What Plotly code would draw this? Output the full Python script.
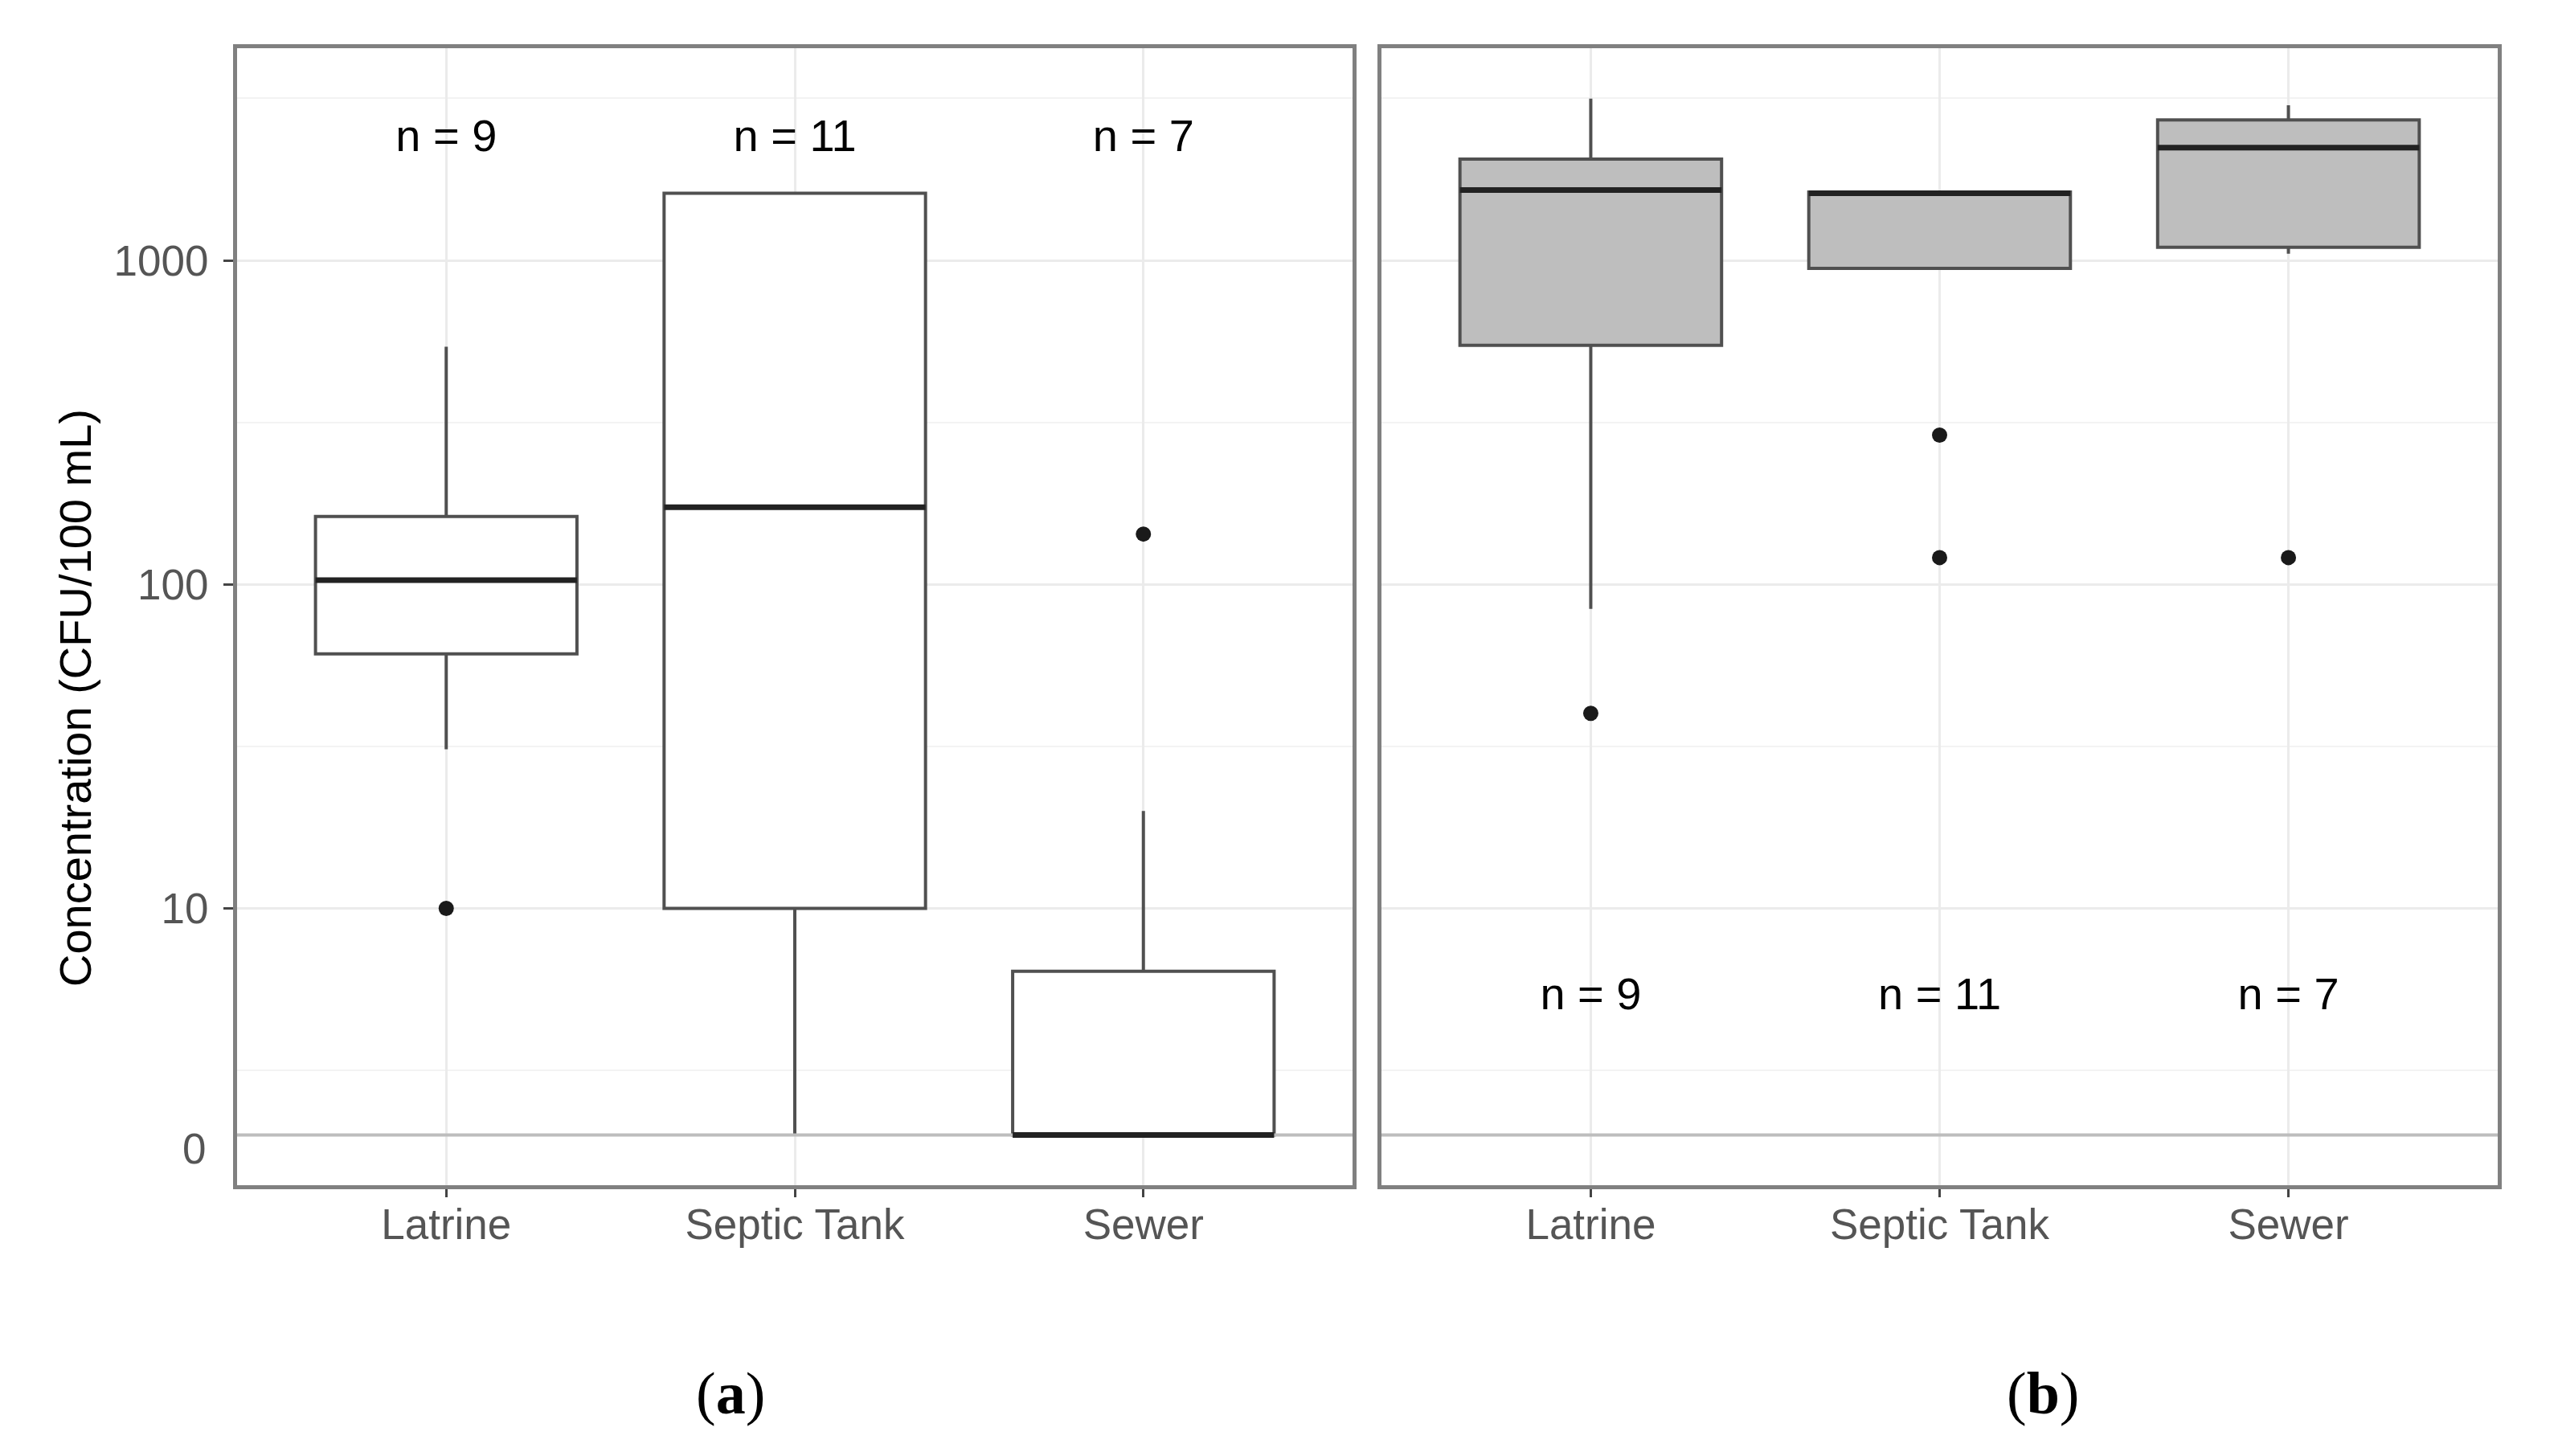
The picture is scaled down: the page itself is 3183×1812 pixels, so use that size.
import math
import plotly.graph_objects as go

# categories and box statistics (CFU/100 mL); 0 = below detection
categories = ["Latrine", "Septic Tank", "Sewer"]
n_counts = [9, 11, 7]

a_lower = [31, 0, 0]
a_q1 = [61, 10, 0]
a_median = [103, 173, 0]
a_q3 = [162, 1610, 6.4]
a_upper = [541, 1610, 20]
a_outlier_cat = [0, 2]
a_outlier_val = [10, 143]

b_lower = [84, 944, 1048]
b_q1 = [547, 944, 1097]
b_median = [1648, 1610, 2228]
b_q3 = [2052, 1625, 2713]
b_upper = [3155, 1625, 3010]
b_outlier_cat = [0, 1, 1, 2]
b_outlier_val = [40, 289, 121, 121]

ZERO_PLOT = 2.0        # where zero values sit on the log axis
ZERO_LABEL = 1.82      # where the "0" label is written
N_LABEL_Y = {"a": 2350, "b": 5.3}

W, H = 3183, 1812
OFF = 6                # page body margin
FONT = "Liberation Sans, Arial, sans-serif"
BOX_W = 0.75
X_RANGE = [-0.6, 2.6]


def z(vals):
    return [v if v > 0 else ZERO_PLOT for v in vals]


def px(x):
    return (x - OFF) / W


def py(y):
    return 1 - (y - OFF) / H


panels = [
    dict(key="a", xa="x", ya="y", fill="white", lower=a_lower, q1=a_q1, med=a_median, q3=a_q3,
         upper=a_upper, oc=a_outlier_cat, ov=a_outlier_val),
    dict(key="b", xa="x2", ya="y2", fill="#bebebe", lower=b_lower, q1=b_q1, med=b_median, q3=b_q3,
         upper=b_upper, oc=b_outlier_cat, ov=b_outlier_val),
]

fig = go.Figure()
xs = list(range(len(categories)))

for p in panels:
    # zero line, drawn first so it stays under the boxes
    fig.add_trace(go.Scatter(x=X_RANGE, y=[ZERO_PLOT, ZERO_PLOT], mode="lines",
                             line=dict(color="#bdbdbd", width=4),
                             showlegend=False, hoverinfo="skip", xaxis=p["xa"], yaxis=p["ya"]))
    fig.add_trace(go.Box(
        x=xs, q1=z(p["q1"]), median=z(p["med"]), q3=z(p["q3"]),
        lowerfence=z(p["lower"]), upperfence=z(p["upper"]),
        width=BOX_W, fillcolor=p["fill"], line=dict(color="#505050", width=4),
        boxpoints=False, whiskerwidth=0, showlegend=False, hoverinfo="skip",
        xaxis=p["xa"], yaxis=p["ya"]))
    # thicker median line, as ggplot draws it
    mx, my = [], []
    for i, m in zip(xs, z(p["med"])):
        mx += [i - BOX_W / 2, i + BOX_W / 2, None]
        my += [m, m, None]
    fig.add_trace(go.Scatter(x=mx, y=my, mode="lines", line=dict(color="#222222", width=7),
                             showlegend=False, hoverinfo="skip", xaxis=p["xa"], yaxis=p["ya"]))
    # outliers
    fig.add_trace(go.Scatter(x=p["oc"], y=p["ov"], mode="markers",
                             marker=dict(color="#1a1a1a", size=19),
                             showlegend=False, hoverinfo="skip", xaxis=p["xa"], yaxis=p["ya"]))
    # sample sizes
    fig.add_trace(go.Scatter(x=xs, y=[N_LABEL_Y[p["key"]]] * len(xs), mode="text",
                             text=["n = %d" % n for n in n_counts],
                             textfont=dict(family=FONT, size=56, color="black"),
                             showlegend=False, hoverinfo="skip", xaxis=p["xa"], yaxis=p["ya"]))

y_dom = [py(1473), py(58)]
y_range = [0.146, 3.6546]

xcommon = dict(range=X_RANGE, tickvals=xs, ticktext=categories, showgrid=True,
               gridcolor="#ebebeb", gridwidth=3, zeroline=False, showline=True, mirror=True,
               linecolor="#808080", linewidth=5, ticks="outside", ticklen=10, tickwidth=3,
               tickcolor="#444444", ticklabelstandoff=-12,
               tickfont=dict(family=FONT, size=53, color="#555555"))
ycommon = dict(type="log", range=y_range, tickvals=[10, 100, 1000], ticktext=["10", "100", "1000"],
               showgrid=True, gridcolor="#ebebeb", gridwidth=3, zeroline=False,
               minor=dict(tickvals=[3.162, 31.62, 316.2, 3162], showgrid=True,
                          gridcolor="#f3f3f3", gridwidth=2, ticks=""),
               showline=True, mirror=True, linecolor="#808080", linewidth=5,
               tickfont=dict(family=FONT, size=53, color="#555555"))

fig.update_layout(
    width=W, height=H, margin=dict(l=0, r=0, t=0, b=0),
    paper_bgcolor="white", plot_bgcolor="white", showlegend=False,
    xaxis=dict(domain=[px(293), px(1681)], anchor="y", **xcommon),
    xaxis2=dict(domain=[px(1717), px(3106)], anchor="y2", **xcommon),
    yaxis=dict(domain=y_dom, anchor="x", ticks="outside", ticklen=12, tickwidth=3,
               tickcolor="#444444", ticklabelstandoff=8, **ycommon),
    yaxis2=dict(domain=y_dom, anchor="x2", ticks="", showticklabels=False, **ycommon),
)

fig.add_annotation(text="0", xref="paper", x=px(256), xanchor="right", yref="y",
                   y=math.log10(ZERO_LABEL), yanchor="middle", showarrow=False,
                   font=dict(family=FONT, size=53, color="#555555"))
fig.add_annotation(text="Concentration (CFU/100 mL)", xref="paper", x=px(91), xanchor="center",
                   yref="paper", y=py(867), yanchor="middle", textangle=-90, showarrow=False,
                   font=dict(family=FONT, size=56, color="black"))
for lab, xc in [("a", 907), ("b", 2540)]:
    fig.add_annotation(text="(<b>%s</b>)" % lab, xref="paper", x=px(xc), xanchor="center",
                       yref="paper", y=py(1732), yanchor="middle", showarrow=False,
                       font=dict(family="Liberation Serif, Times New Roman", size=74, color="black"))

fig.write_html("out.html")
